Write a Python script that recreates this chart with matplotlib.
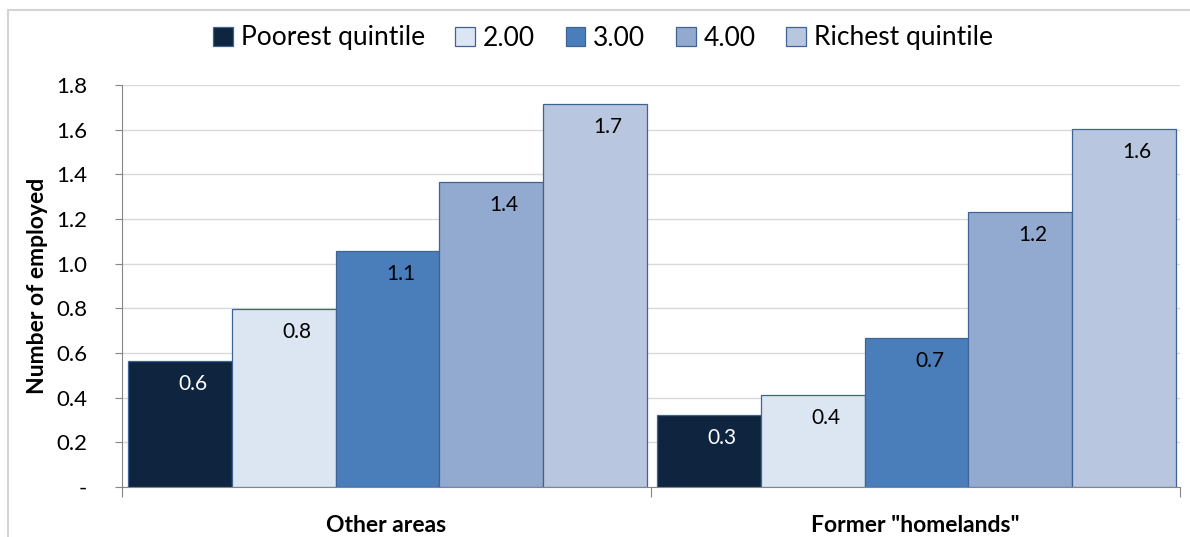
import matplotlib
import matplotlib.pyplot as plt
import numpy as np
from matplotlib.patches import FancyBboxPatch

# disabling interactive plot output viewer
matplotlib.use('Agg')

plt.rcParams['font.family'] = ['Lato', 'DejaVu Sans']

# mean number of employed per household, by area type and income quintile
areas = ['Other areas', 'Former "homelands"']
quintiles = ['Poorest quintile', '2.00', '3.00', '4.00', 'Richest quintile']
poorest = [0.564, 0.322]
second = [0.797, 0.412]
third = [1.057, 0.667]
fourth = [1.366, 1.231]
richest = [1.715, 1.603]
y_ticks = [0.0, 0.2, 0.4, 0.6, 0.8, 1.0, 1.2, 1.4, 1.6, 1.8]
y_tick_labels = ['-', '0.2', '0.4', '0.6', '0.8', '1.0', '1.2', '1.4', '1.6', '1.8']

series = [poorest, second, third, fourth, richest]
colors = ['#0f243e', '#dce6f2', '#4a7ebb', '#93aad0', '#b9c6df']
label_colors = ['white', 'black', 'black', 'black', 'black']
edge = '#3f6493'

fig = plt.figure(figsize=(11.9, 5.37), dpi=100)

# light chart frame
frame = FancyBboxPatch((8 / 1190, -0.05), 1.2, 1 - 10 / 537 + 0.05,
                       boxstyle='square,pad=0', transform=fig.transFigure,
                       facecolor='white', edgecolor='#d4d4d4', linewidth=1.5,
                       zorder=-10)
fig.patches.append(frame)

ax = fig.add_axes([122 / 1190, 1 - 487 / 537, 1058 / 1190, 402 / 537])
ax.patch.set_alpha(0)

x = np.arange(len(areas))
group_w = 0.98
bar_w = group_w / len(series)

for i, (vals, name) in enumerate(zip(series, quintiles)):
    pos = x - group_w / 2 + bar_w * (i + 0.5) + 0.002
    bars = ax.bar(pos, vals, bar_w, color=colors[i], edgecolor=edge,
                  linewidth=0.9, label=name, zorder=3)
    for b, v in zip(bars, vals):
        ax.annotate('{:.1f}'.format(v),
                    (b.get_x() + b.get_width() / 2, v),
                    xytext=(13, -23), textcoords='offset pixels',
                    ha='center', va='center', fontsize=15,
                    color=label_colors[i], zorder=4)

ax.set_xlim(-0.5, 1.5)
ax.set_ylim(0, 1.8)
ax.set_yticks(y_ticks)
ax.set_yticklabels(y_tick_labels, fontsize=16)
ax.yaxis.grid(True, color='#d9d9d9', linewidth=1, zorder=0)

# category ticks sit between the groups
ax.set_xticks([-0.5, 0.5, 1.5])
ax.set_xticklabels([])
ax.set_xticks(x, minor=True)
ax.set_xticklabels(areas, minor=True, fontsize=16.5, fontweight='bold')
ax.tick_params(axis='x', which='minor', length=0, pad=20)
ax.tick_params(axis='x', which='major', length=7, color='#868686')
ax.tick_params(axis='y', length=5, color='#868686', pad=20)

for s in ['top', 'right']:
    ax.spines[s].set_visible(False)
for s in ['left', 'bottom']:
    ax.spines[s].set_color('#868686')

ax.set_ylabel('Number of employed', fontsize=16.5, fontweight='bold', labelpad=6)

fig.legend(loc='center', bbox_to_anchor=(603 / 1190, 1 - 38 / 537), ncol=5,
           frameon=False, fontsize=19, handlelength=0.75, handleheight=0.75,
           handletextpad=0.3, columnspacing=1.15, borderaxespad=0)

plt.savefig('out.png', dpi=100)
